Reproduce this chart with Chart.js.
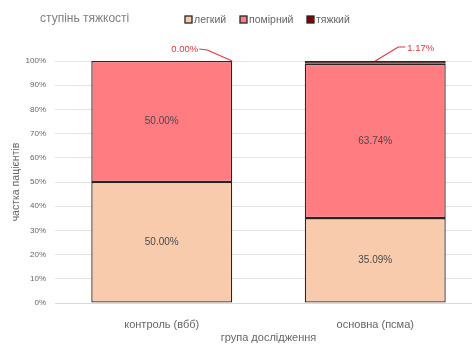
<!DOCTYPE html>
<html>
<head>
<meta charset="utf-8">
<script src="https://cdn.jsdelivr.net/npm/chart.js@4"></script>
<style>
  html, body { margin: 0; padding: 0; background: #fff; overflow: hidden; }
  .chart__body { width: 484px; height: 345px; }
</style>
</head>
<body>
<div class="chart__body"><canvas id="myChart"></canvas></div>
<script>
// Дані: групи та частки за ступенем тяжкості (%)
const groups = ["контроль (вбб)", "основна (псма)"];
const mild = [50.0, 35.09];
const moderate = [50.0, 63.74];
const severe = [0.0, 1.17];
const yTicks = [0, 10, 20, 30, 40, 50, 60, 70, 80, 90, 100];

const FONT = "'Liberation Sans', Arial, sans-serif";
const GREY = "#666666";
const EDGE = "#262626";

// Підписи значень у сегментах + винесені підписи для "тяжкий"
const labelsPlugin = {
  id: "segLabels",
  afterDatasetsDraw(chart) {
    const ctx = chart.ctx;
    ctx.save();
    ctx.textAlign = "center";
    ctx.textBaseline = "middle";
    ctx.font = "10px " + FONT;
    ctx.fillStyle = "#4a4a4a";
    [0, 1].forEach((di) => {
      chart.getDatasetMeta(di).data.forEach((bar, i) => {
        const v = chart.data.datasets[di].data[i];
        ctx.fillText(v.toFixed(2) + "%", bar.x, (bar.y + bar.base) / 2);
      });
    });

    // винесені підписи з лінією
    const meta = chart.getDatasetMeta(2);
    const red = "#E0393E";
    ctx.strokeStyle = red;
    ctx.fillStyle = red;
    ctx.lineWidth = 1.2;
    ctx.font = "9.5px " + FONT;
    meta.data.forEach((bar, i) => {
      const v = chart.data.datasets[2].data[i];
      const txt = v.toFixed(2) + "%";
      const ax = i === 0 ? bar.x + bar.width / 2 : bar.x;
      const ay = bar.y;
      ctx.beginPath();
      if (i === 0) {
        ctx.moveTo(ax, ay);
        ctx.lineTo(ax - 25, ay - 11);
        ctx.lineTo(ax - 33, ay - 12);
        ctx.stroke();
        ctx.textAlign = "right";
        ctx.fillText(txt, ax - 34, ay - 12);
      } else {
        ctx.moveTo(ax, ay);
        ctx.lineTo(ax + 23, ay - 14);
        ctx.lineTo(ax + 30, ay - 14);
        ctx.stroke();
        ctx.textAlign = "left";
        ctx.fillText(txt, ax + 32, ay - 13);
      }
    });
    ctx.restore();
  },
};

// Заголовок легенди та сама легенда зверху
const headerPlugin = {
  id: "header",
  afterDraw(chart) {
    const ctx = chart.ctx;
    ctx.save();
    ctx.textBaseline = "middle";
    ctx.textAlign = "left";
    ctx.font = "12px " + FONT;
    ctx.fillStyle = "#808080";
    ctx.fillText("ступінь тяжкості", 40, 19);

    ctx.font = "10.5px " + FONT;
    const starts = [185, 240, 307];
    chart.data.datasets.forEach((ds, i) => {
      const x = starts[i];
      ctx.fillStyle = ds.backgroundColor;
      ctx.fillRect(x, 16, 7, 7);
      ctx.strokeStyle = EDGE;
      ctx.lineWidth = 1.3;
      ctx.strokeRect(x, 16, 7, 7);
      ctx.fillStyle = GREY;
      ctx.fillText(ds.label, x + 9, 20);
    });
    ctx.restore();
  },
};

const commonBar = {
  borderColor: EDGE,
  borderWidth: 1.3,
  borderSkipped: false,
  barPercentage: 0.66,
  categoryPercentage: 1,
};

const data = {
  labels: groups,
  datasets: [
    { label: "легкий", data: mild, backgroundColor: "#F8CBAD", ...commonBar },
    { label: "помірний", data: moderate, backgroundColor: "#FF7C80", ...commonBar },
    { label: "тяжкий", data: severe, backgroundColor: "#8B0000", ...commonBar },
  ],
};

const config = {
  type: "bar",
  data,
  options: {
    responsive: true,
    maintainAspectRatio: false,
    animation: false,
    layout: { padding: { left: 0, top: 61, right: 2, bottom: 0 } },
    scales: {
      x: {
        stacked: true,
        grid: { display: false },
        border: { color: "#d9d9d9", width: 1 },
        ticks: { color: GREY, font: { family: FONT, size: 11 }, padding: 7 },
        title: {
          display: true,
          text: "група дослідження",
          color: GREY,
          font: { family: FONT, size: 11 },
          padding: { top: 1, bottom: 0 },
        },
        afterFit(scale) { scale.height = 42; },
      },
      y: {
        stacked: true,
        min: 0,
        max: 100,
        afterBuildTicks(scale) { scale.ticks = yTicks.map((v) => ({ value: v })); },
        grid: { color: "#e3e3e3", drawTicks: false },
        border: { display: false },
        ticks: {
          color: GREY,
          font: { family: FONT, size: 8 },
          padding: 9,
          callback: (v) => v + "%",
        },
        title: {
          display: true,
          text: "частка пацієнтів",
          color: GREY,
          font: { family: FONT, size: 10.5 },
          padding: { top: 10, bottom: 0 },
        },
        afterFit(scale) { scale.width = 55; },
      },
    },
    plugins: {
      legend: { display: false },
      tooltip: { enabled: false },
    },
  },
  plugins: [labelsPlugin, headerPlugin],
};

const myChart = new Chart(document.getElementById("myChart"), config);
</script>
</body>
</html>
